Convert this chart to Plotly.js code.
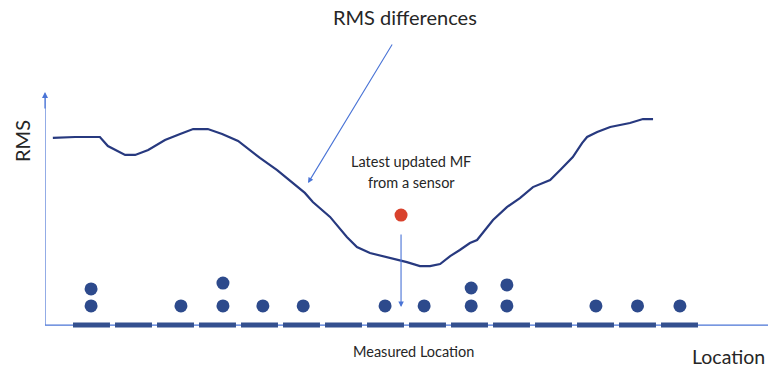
<!DOCTYPE html>
<html>
<head>
<meta charset="utf-8">
<script src="https://cdn.plot.ly/plotly-3.0.1.min.js"></script>
<style>html,body{margin:0;padding:0;background:#fff;}#chart{width:770px;height:370px;}</style>
</head>
<body>
<div id="chart"></div>
<script>
// RMS differences curve (location units, RMS units)
var rmsX = [0.08,0.61,1.20,1.39,1.80,2.04,2.35,2.75,3.11,3.42,3.77,4.11,4.49,4.77,5.01,5.42,5.85,6.08,6.27,6.68,7.08,7.32,7.63,8.11,8.51,8.82,9.06,9.30,9.54,9.77,10.01,10.18,10.56,10.89,11.20,11.51,11.92,12.16,12.46,12.68,12.80,13.04,13.35,13.82,14.13,14.37];
var rmsY = [0.803,0.807,0.807,0.768,0.730,0.730,0.751,0.794,0.820,0.841,0.841,0.820,0.790,0.751,0.717,0.665,0.601,0.567,0.528,0.464,0.378,0.335,0.309,0.288,0.270,0.253,0.253,0.262,0.296,0.322,0.352,0.365,0.451,0.506,0.545,0.592,0.622,0.665,0.721,0.781,0.807,0.828,0.850,0.867,0.884,0.884];

// measured locations (segments on the axis)
var locations = [1,2,3,4,5,6,7,8,9,10,11,12,13,14,15];
var segHalf = 0.44;

// stored magnetic-field measurements (dots)
var dotsX = [0.99,0.99,3.13,4.13,4.13,5.08,6.04,7.99,8.92,10.04,10.04,10.89,10.89,13.01,14.0,15.01];
var dotsY = [0.082,0.155,0.082,0.082,0.180,0.082,0.082,0.082,0.082,0.082,0.159,0.082,0.172,0.082,0.082,0.082];

// latest updated MF from a sensor
var latestX = [8.37];
var latestY = [0.472];
var latestArrowEnd = 0.077;
var latestArrowStart = 0.395;

var xMin = -0.107, xMax = 17.107;

var segX = [], segY = [];
locations.forEach(function(c){ segX.push(c - segHalf, c + segHalf, null); segY.push(0, 0, null); });

var axisBlue = '#4a74d6';
var navy = '#27397f';
var font = 'Lato, "Open Sans", sans-serif';
var txt = '#262626';

var traces = [
  {x: rmsX, y: rmsY, mode: 'lines', line: {color: navy, width: 2.2}, hoverinfo: 'skip'},
  {x: segX, y: segY, mode: 'lines', line: {color: '#34508f', width: 5}, hoverinfo: 'skip', cliponaxis: false},
  {x: dotsX, y: dotsY, mode: 'markers', marker: {color: '#2d4a8c', size: 13}, hoverinfo: 'skip', cliponaxis: false},
  {x: latestX, y: latestY, mode: 'markers', marker: {color: '#d9422d', size: 13}, hoverinfo: 'skip'}
];

function label(x, y, ref, text, size, extra) {
  var a = {x: x, y: y, xref: ref, yref: ref, text: text, showarrow: false, xanchor: 'center', yanchor: 'middle',
           font: {family: font, size: size, color: txt}};
  if (ref === 'x') { a.yref = 'y'; }
  for (var k in (extra || {})) a[k] = extra[k];
  return a;
}

var layout = {
  width: 770, height: 370,
  margin: {l: 45, r: 2, t: 92, b: 10},
  paper_bgcolor: '#fff', plot_bgcolor: '#fff',
  showlegend: false,
  xaxis: {range: [xMin, xMax], showgrid: false, zeroline: false, showticklabels: false, showline: false, ticks: ''},
  yaxis: {range: [-0.15, 1.0], showgrid: false, zeroline: false, showticklabels: false, showline: false, ticks: ''},
  shapes: [
    {type: 'line', xref: 'x', yref: 'y', x0: xMin, x1: xMax, y0: 0, y1: 0, line: {color: axisBlue, width: 1.2}, layer: 'below'},
    {type: 'line', xref: 'x', yref: 'y', x0: xMin, x1: xMin, y0: 0, y1: 0.98, line: {color: axisBlue, width: 1.2}, layer: 'below'}
  ],
  annotations: [
    {x: xMin, y: 1.0, xref: 'x', yref: 'y', text: '', showarrow: true, ax: 0, ay: 18, arrowhead: 2, arrowsize: 1, arrowwidth: 1.2, arrowcolor: axisBlue},
    {x: 6.155, y: 0.609, xref: 'x', yref: 'y', axref: 'x', ayref: 'y', ax: 8.18, ay: 1.21, text: '', showarrow: true, arrowhead: 2, arrowsize: 1, arrowwidth: 1.1, arrowcolor: axisBlue},
    {x: latestX[0], y: latestArrowEnd, xref: 'x', yref: 'y', axref: 'x', ayref: 'y', ax: latestX[0], ay: latestArrowStart, text: '', showarrow: true, arrowhead: 2, arrowsize: 1, arrowwidth: 1.1, arrowcolor: axisBlue},
    label(0.498, 1.28, 'paper', 'RMS differences', 20),
    label(8.61, 0.700, 'x', 'Latest updated MF', 14.5),
    label(8.61, 0.610, 'x', 'from a sensor', 14.5),
    label(8.66, -0.112, 'x', 'Measured Location', 14.5),
    label(0.946, 0.014, 'paper', 'Location', 19.5),
    label(-0.032, 0.817, 'paper', 'RMS', 20, {textangle: -90})
  ]
};

Plotly.newPlot('chart', traces, layout, {displayModeBar: false, staticPlot: true});
</script>
</body>
</html>
